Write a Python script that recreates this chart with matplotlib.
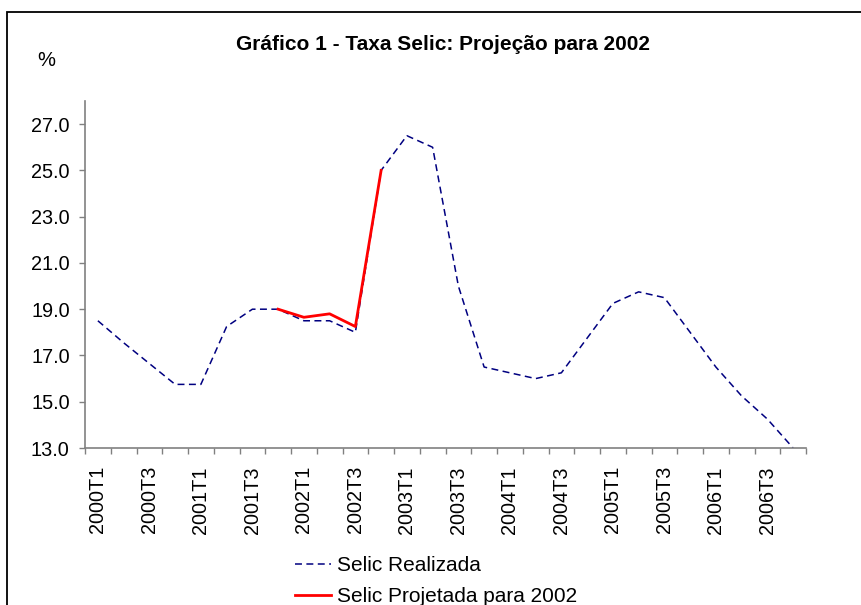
import numpy as np
import matplotlib
matplotlib.use("Agg")
import matplotlib.pyplot as plt
from matplotlib.patches import Rectangle

plt.rcParams['font.family'] = ['Liberation Sans', 'DejaVu Sans']
plt.rcParams['lines.scale_dashes'] = False

years = [2000, 2001, 2002, 2003, 2004, 2005, 2006]
quarters = [f"{y}T{q}" for y in years for q in range(1, 5)]

selic_realizada = [18.5, 17.55, 16.65, 15.75,
                   15.75, 18.25, 19.0, 19.0,
                   18.5, 18.5, 18.0, 25.0,
                   26.5, 26.0, 20.0, 16.5,
                   16.25, 16.0, 16.25, 17.75,
                   19.25, 19.75, 19.5, 18.0,
                   16.5, 15.25, 14.25, 13.0]

selic_projetada = [np.nan] * 7 + [19.0, 18.65, 18.8, 18.25, 25.0] + [np.nan] * 16

title = "Gráfico 1 - Taxa Selic: Projeção para 2002"
ylabel = "%"
legend_labels = ["Selic Realizada", "Selic Projetada para 2002"]
yticks = [13.0, 15.0, 17.0, 19.0, 21.0, 23.0, 25.0, 27.0]

W, H = 861, 605
fig = plt.figure(figsize=(W / 100, H / 100), dpi=100)
ax = fig.add_axes([85 / W, 1 - 448 / H, (806 - 85) / W, (448 - 101) / H])

x = np.arange(len(quarters)) + 0.5
l1, = ax.plot(x, selic_realizada, color='#000080', lw=1.1, dashes=[5, 3.2],
              label=legend_labels[0], clip_on=True)
l2, = ax.plot(x, selic_projetada, color='#FF0000', lw=2.0,
              label=legend_labels[1])

ax.set_xlim(0, len(quarters))
ax.set_ylim(13, 28)
ax.set_yticks(yticks)
ax.set_yticklabels([f"{v:.1f}" for v in yticks])

ax.set_xticks(np.arange(len(quarters) + 1))
ax.set_xticklabels([])
ax.set_xticks(x[::2], minor=True)
ax.set_xticklabels(quarters[::2], minor=True, rotation=90)
ax.tick_params(axis='x', which='minor', length=0, pad=13, labelsize=14.3)
ax.tick_params(axis='x', which='major', length=4, width=1, color='#808080', direction='out')
ax.tick_params(axis='y', length=4, width=1, color='#808080', direction='out', pad=7, labelsize=14.3)

for s in ['top', 'right']:
    ax.spines[s].set_visible(False)
for s in ['left', 'bottom']:
    ax.spines[s].set_color('#808080')
    ax.spines[s].set_linewidth(1.2)

fig.text(443 / W, 1 - 44 / H, title, ha='center', va='center',
         fontsize=15, fontweight='bold')
fig.text(46 / W, 1 - 61 / H, ylabel, ha='center', va='center', fontsize=14.5)

fig.legend(handles=[l1, l2], loc='upper left',
           bbox_to_anchor=(295 / W, 1 - 556 / H), frameon=False,
           fontsize=15, borderpad=0, borderaxespad=0, handlelength=1.75,
           handletextpad=0.28, labelspacing=0.6)

fig.patches.append(Rectangle((7 / W, -0.1), 1.2, 1 - 12 / H + 0.1,
                             transform=fig.transFigure, fill=False,
                             edgecolor='black', lw=1.3))

fig.savefig("out.png", dpi=100)
